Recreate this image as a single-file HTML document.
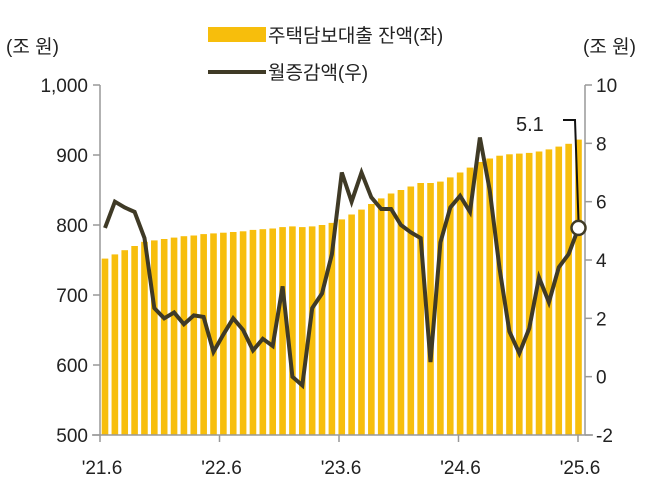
<!DOCTYPE html>
<html><head><meta charset="utf-8"><style>
body{margin:0;background:#fff;}
svg text{font-family:"Liberation Sans","Noto Sans CJK KR",sans-serif;fill:#222;}
</style></head><body>
<svg width="662" height="488" viewBox="0 0 662 488">
<g id="plot"></g>
</svg>
<script>
const months=['21.6','21.7','21.8','21.9','21.10','21.11','21.12','22.1','22.2','22.3','22.4','22.5','22.6','22.7','22.8','22.9','22.10','22.11','22.12','23.1','23.2','23.3','23.4','23.5','23.6','23.7','23.8','23.9','23.10','23.11','23.12','24.1','24.2','24.3','24.4','24.5','24.6','24.7','24.8','24.9','24.10','24.11','24.12','25.1','25.2','25.3','25.4','25.5','25.6'];
const balance=[752,758,764,770,776,778,780,782,784,785,787,788,789,790,791,793,794,795,797,798,797,798,800,803,808,815,822,830,838,845,850,855,860,860,862,868,875,882,890,895,899,901,902,903,905,908,912,916,922];
const change=[5.1,6.0,5.8,5.65,4.75,2.35,2.0,2.2,1.8,2.1,2.05,0.85,1.45,2.0,1.6,0.9,1.3,1.05,3.1,0,-0.3,2.35,2.85,4.2,7.0,6.0,7.0,6.15,5.75,5.75,5.2,4.95,4.75,0.5,4.6,5.8,6.2,5.65,8.2,6.4,3.7,1.55,0.8,1.65,3.4,2.55,3.75,4.2,5.1];
const leftTicks=[500,600,700,800,900,1000];
const leftTickLabels=['500','600','700','800','900','1,000'];
const rightTicks=[-2,0,2,4,6,8,10];
const xTickLabels=["'21.6","'22.6","'23.6","'24.6","'25.6"];
const xTickIdx=[0,12,24,36,48];

const NS='http://www.w3.org/2000/svg';
const g=document.getElementById('plot');
const X0=100,X1=585,Y0=435,Y1=85;
const xc=i=>105+i*(578.5-105)/48;
const xt=i=>100+i*(578-100)/48;
const yl=v=>Y0-(v-500)/500*(Y0-Y1);
const yr=v=>Y0-(v+2)/12*(Y0-Y1);
function el(t,a,txt){const e=document.createElementNS(NS,t);for(const k in a)e.setAttribute(k,a[k]);if(txt!==undefined)e.textContent=txt;g.appendChild(e);return e;}

balance.forEach((v,i)=>{
 const r=el('rect',{x:xc(i)-3.3,y:yl(v),width:6.6,height:Y0-yl(v),fill:'#F7BE0C'});
 
 
});
// axes
let a=el('line',{x1:X0,y1:Y1,x2:X0,y2:Y0,stroke:'#999','stroke-width':1.5});

a=el('line',{x1:X1,y1:Y1,x2:X1,y2:Y0,stroke:'#999','stroke-width':1.5});

a=el('line',{x1:X0-8,y1:Y0,x2:X1+8,y2:Y0,stroke:'#999','stroke-width':1.5});

leftTicks.forEach((v,i)=>{
 el('line',{x1:X0-7,y1:yl(v),x2:X0,y2:yl(v),stroke:'#999','stroke-width':1.5});
 const t=el('text',{x:88,y:yl(v)+7,'text-anchor':'end','font-size':19},leftTickLabels[i]);
 
});
rightTicks.forEach(v=>{
 el('line',{x1:X1,y1:yr(v),x2:X1+7,y2:yr(v),stroke:'#999','stroke-width':1.5});
 const t=el('text',{x:596,y:yr(v)+7,'font-size':19},String(v));
 
});
xTickIdx.forEach((ix,k)=>{
 el('line',{x1:xt(ix),y1:Y0,x2:xt(ix),y2:Y0+7,stroke:'#999','stroke-width':1.5});
 const t=el('text',{x:xt(ix)+2,y:474,'text-anchor':'middle','font-size':19},xTickLabels[k]);
 
});
const pts=change.map((v,i)=>xc(i).toFixed(1)+','+yr(v).toFixed(1)).join(' ');
const pl=el('polyline',{points:pts,fill:'none',stroke:'#3F3A26','stroke-width':4,'stroke-linejoin':'miter'});

// annotation
const n=change.length-1;
const ax=xc(n),ay=yr(change[n]);
el('polyline',{points:`563,120 575,120 ${ax},${ay-7}`,fill:'none',stroke:'#111','stroke-width':2});
const c=el('circle',{cx:ax,cy:ay,r:7,fill:'#fff',stroke:'#3F3A26','stroke-width':2.5});

const at=el('text',{x:516,y:131,'font-size':20},change[n].toFixed(1));

// units
let u=el('text',{x:6,y:53,'font-size':19},'(조 원)');

u=el('text',{x:583,y:53,'font-size':19},'(조 원)');

// legend
let l=el('rect',{x:208,y:27,width:58,height:15,fill:'#F7BE0C'});

l=el('text',{x:268,y:42,'font-size':19},'주택담보대출 잔액(좌)');

l=el('line',{x1:208,y1:72,x2:266,y2:72,stroke:'#3F3A26','stroke-width':4});

l=el('text',{x:268,y:79,'font-size':19},'월증감액(우)');

</script>
</body></html>
